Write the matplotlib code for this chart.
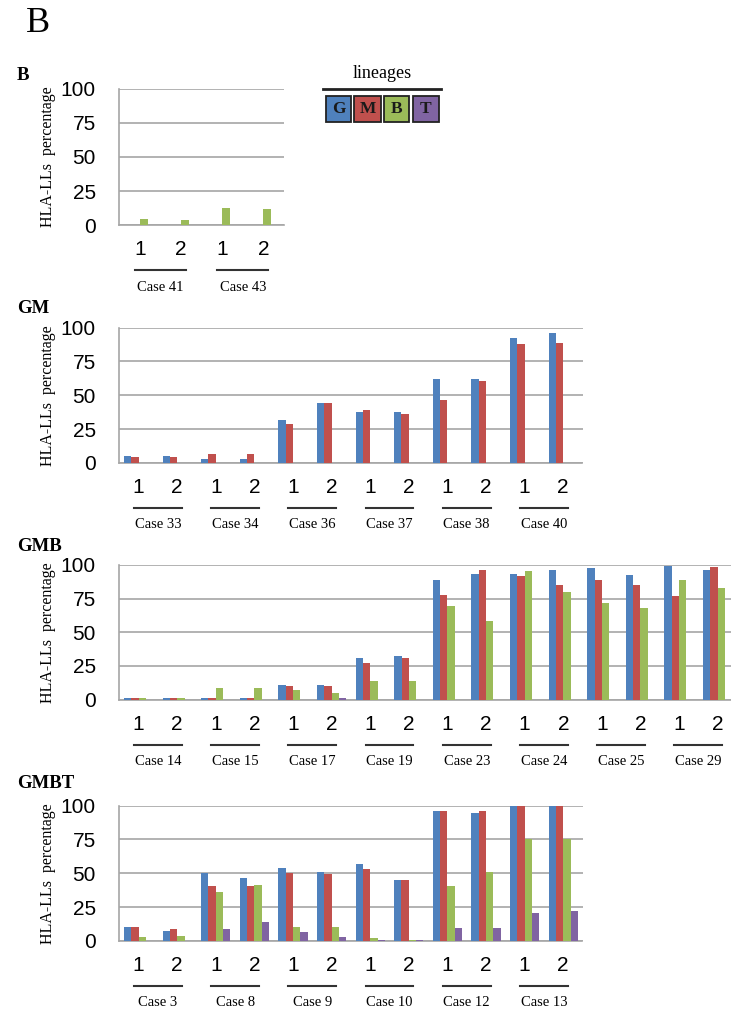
import numpy as np
import matplotlib.pyplot as plt
import matplotlib.transforms as mtransforms
from matplotlib.patches import Rectangle
from matplotlib.lines import Line2D

W, H = 731, 1015

lineages = ['G', 'M', 'B', 'T']
colors = ['#4F81BD', '#C0504D', '#9BBB59', '#8064A2']
replicates = ['1', '2']
yticks = [0, 25, 50, 75, 100]

# panel B
b_cases = ['Case 41', 'Case 43']
b_g = [0, 0, 0, 0]
b_m = [0, 0, 0, 0]
b_b = [4.4, 3.4, 12.8, 11.8]
b_t = [0, 0, 0, 0]

# panel GM
gm_cases = ['Case 33', 'Case 34', 'Case 36', 'Case 37', 'Case 38', 'Case 40']
gm_g = [5.4, 5.4, 3.2, 3.2, 32, 44.4, 37.8, 37.8, 61.7, 61.7, 92.3, 96.3]
gm_m = [4.2, 4.2, 6.4, 6.4, 29, 44.4, 38.8, 35.8, 46.4, 60.7, 87.7, 88.6]
gm_b = [0] * 12
gm_t = [0] * 12

# panel GMB
gmb_cases = ['Case 14', 'Case 15', 'Case 17', 'Case 19',
             'Case 23', 'Case 24', 'Case 25', 'Case 29']
gmb_g = [1, 1, 1, 1, 10.7, 10.7, 30.8, 32.1, 88.8, 93.5, 93.5, 96.5, 97.5, 92.5, 99.3, 96.5]
gmb_m = [1, 1, 1, 1, 9.7, 9.7, 27.1, 30.8, 77.9, 96.5, 91.5, 84.8, 88.8, 84.8, 77.1, 98.3]
gmb_b = [1, 1, 8.7, 8.7, 6.7, 5, 13.7, 13.7, 69.2, 58.5, 95.5, 80.1, 72.1, 67.7, 88.8, 83.1]
gmb_t = [0, 0, 0, 0, 0, 1.2, 0, 0, 0, 0, 0, 0, 0, 0, 0, 0]

# panel GMBT
gmbt_cases = ['Case 3', 'Case 8', 'Case 9', 'Case 10', 'Case 12', 'Case 13']
gmbt_g = [10.4, 7.7, 49.9, 46.2, 53.8, 50.9, 56.8, 45.2, 95.8, 94.8, 100, 100]
gmbt_m = [10.4, 8.6, 40.5, 40.5, 49.9, 49.4, 52.8, 45.2, 95.8, 95.8, 100, 100]
gmbt_b = [3, 4, 35.8, 41.5, 10.4, 10.4, 2, 1, 40.5, 50.9, 75.3, 75.3]
gmbt_t = [0, 0, 8.6, 14.3, 6.9, 3, 1, 1, 9.6, 9.6, 21, 22]

NUM_FONT = ['Liberation Sans Narrow', 'Liberation Sans']
SERIF = 'Liberation Serif'
GRID = '#A6A6A6'


def px_box(left, top, right, bottom):
    return [left / W, 1 - bottom / H, (right - left) / W, (bottom - top) / H]


def draw_panel(ax, title, cases, series, title_y):
    n = len(series[0])
    x = np.arange(n)
    w = 0.19
    for i, vals in enumerate(series):
        ax.bar(x + (i - 1.5) * w, vals, w, color=colors[i], linewidth=0, zorder=3)
    ax.set_xlim(-0.5, n - 0.5)
    ax.set_ylim(0, 100)
    ax.set_yticks(yticks)
    ax.set_yticklabels([str(v) for v in yticks], family=NUM_FONT, fontsize=15)
    ax.set_xticks(x)
    ax.set_xticklabels(replicates * len(cases), family=NUM_FONT, fontsize=15)
    ax.tick_params(axis='y', length=0, pad=17)
    ax.tick_params(axis='x', length=0, pad=11)
    ax.grid(axis='y', color=GRID, linewidth=1.2, zorder=0)
    for s in ['top', 'right']:
        ax.spines[s].set_visible(False)
    for s in ['left', 'bottom']:
        ax.spines[s].set_color(GRID)
        ax.spines[s].set_linewidth(1.2)
    ax.set_axisbelow(True)

    h_px = ax.get_position().height * H
    tr = mtransforms.blended_transform_factory(ax.transData, ax.transAxes)
    for k, name in enumerate(cases):
        mid = 2 * k + 0.5
        ax.add_line(Line2D([mid - 0.62, mid + 0.62], [-45 / h_px] * 2, transform=tr,
                           color='#333333', linewidth=1.5, clip_on=False))
        ax.text(mid, -62 / h_px, name, transform=tr, ha='center', va='center',
                family=SERIF, fontsize=10.5, clip_on=False)

    pos = ax.get_position()
    fig.text(17 / W, title_y, title, family=SERIF, fontweight='bold', fontsize=13.5,
             ha='left', va='baseline')
    fig.text(48.5 / W, pos.y0 + pos.height / 2, 'HLA-LLs  percentage', rotation=90,
             family=SERIF, fontsize=11.5, ha='center', va='center')


fig = plt.figure(figsize=(W / 100, H / 100), dpi=100)

panels = [
    ('B', b_cases, [b_g, b_m, b_b, b_t], (119.3, 89, 284, 225), 80),
    ('GM', gm_cases, [gm_g, gm_m, gm_b, gm_t], (119.3, 327.5, 582.5, 463), 313),
    ('GMB', gmb_cases, [gmb_g, gmb_m, gmb_b, gmb_t], (119.3, 565, 737, 699.5), 551),
    ('GMBT', gmbt_cases, [gmbt_g, gmbt_m, gmbt_b, gmbt_t], (119.3, 805.5, 582.5, 941), 788),
]

for title, cases, series, box, ty in panels:
    ax = fig.add_axes(px_box(*box))
    draw_panel(ax, title, cases, series, 1 - ty / H)

# big panel letter
fig.text(26 / W, 1 - 32 / H, 'B', family=SERIF, fontsize=26, ha='left', va='baseline')

# lineage key
fig.text(382 / W, 1 - 78 / H, 'lineages', family=SERIF, fontsize=13, ha='center',
         va='baseline')
fig.add_artist(Line2D([323 / W, 441 / W], [1 - 89 / H] * 2, color='#222222', linewidth=2))
box_x = [(326, 351), (354, 381), (384, 409), (413, 439)]
for (x0, x1), lab, col in zip(box_x, lineages, colors):
    fig.add_artist(Rectangle((x0 / W, 1 - 122 / H), (x1 - x0) / W, 26 / H,
                             facecolor=col, edgecolor='#222222', linewidth=1.3,
                             transform=fig.transFigure))
    fig.text((x0 + x1) / 2 / W, 1 - 109 / H, lab, family=SERIF, fontweight='bold',
             fontsize=12.5, ha='center', va='center', color='#1a1a1a')

fig.savefig('out.png', dpi=100)
